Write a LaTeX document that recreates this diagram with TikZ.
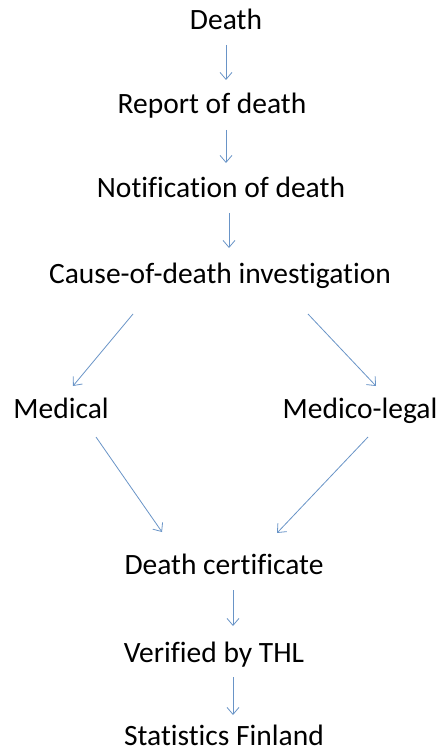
\documentclass[tikz,border=0pt]{standalone}
\usepackage{fontspec}
\setmainfont{Carlito}[Ligatures=NoCommon]
\usetikzlibrary{arrows.meta}
\definecolor{flowblue}{HTML}{4F81BD}
\tikzset{
  label/.style={inner sep=0pt, anchor=base, font=\fontsize{29.5}{33}\selectfont},
  flow/.style={draw=flowblue!85, line width=0.8pt, -{Straight Barb[length=7pt, width=12pt]}}
}
\begin{document}
\begin{tikzpicture}[x=1pt, y=-1pt]
  \useasboundingbox (0,0) rectangle (445,751);
  % stages of the process (placed by baseline)
  \node[label] (death)  at (226,30)  {Death};
  \node[label] (report) at (212,114) {Report of death};
  \node[label] (notif)  at (221,198) {Notification of death};
  \node[label] (cause)  at (220,283) {Cause-of-death investigation};
  \node[label] (med)    at (61,418)  {Medical};
  \node[label] (medleg) at (360,418) {Medico-legal};
  \node[label] (cert)   at (224,574) {Death certificate};
  \node[label] (thl)    at (214,662) {Verified by THL};
  \node[label] (stat)   at (224,745) {Statistics Finland};
  % arrow end points
  \coordinate (a1s) at (226,45);  \coordinate (a1e) at (226,80);
  \coordinate (a2s) at (226,130); \coordinate (a2e) at (226,163);
  \coordinate (a3s) at (229,213); \coordinate (a3e) at (229,248);
  \coordinate (l1s) at (133,314); \coordinate (l1e) at (73,386);
  \coordinate (r1s) at (308,314); \coordinate (r1e) at (376,386);
  \coordinate (l2s) at (96,437);  \coordinate (l2e) at (162,532);
  \coordinate (r2s) at (368,437); \coordinate (r2e) at (277,533);
  \coordinate (a4s) at (233,590); \coordinate (a4e) at (233,626);
  \coordinate (a5s) at (233,677); \coordinate (a5e) at (233,715);
  % connectors
  \draw[flow] (a1s) -- (a1e);
  \draw[flow] (a2s) -- (a2e);
  \draw[flow] (a3s) -- (a3e);
  \draw[flow] (l1s) -- (l1e);
  \draw[flow] (r1s) -- (r1e);
  \draw[flow] (l2s) -- (l2e);
  \draw[flow] (r2s) -- (r2e);
  \draw[flow] (a4s) -- (a4e);
  \draw[flow] (a5s) -- (a5e);
\end{tikzpicture}
\end{document}
